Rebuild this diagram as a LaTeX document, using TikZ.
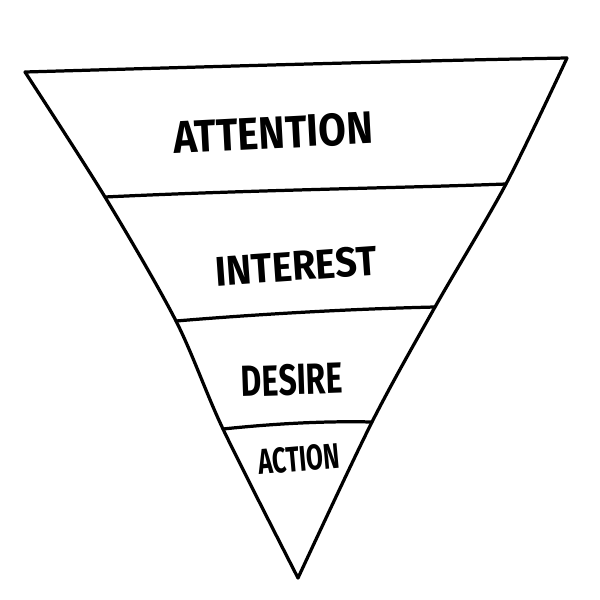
\documentclass[tikz,border=0pt]{standalone}
\usepackage{fontspec}
\setmainfont{Fira Sans}
\begin{document}
\begin{tikzpicture}[x=0.025cm,y=-0.025cm,
  ink/.style={line width=2.3pt,line cap=round,line join=round,black},
  lbl/.style={inner sep=0pt,font=\bfseries}]
\useasboundingbox (0,0) rectangle (600,600);
% corners and junctions
\coordinate (tl) at (25,72);
\coordinate (tr) at (567,58);
\coordinate (bot) at (298,578);
\coordinate (l1) at (105,197);
\coordinate (r1) at (506,184);
\coordinate (l2) at (176,321);
\coordinate (r2) at (435,307);
\coordinate (l3) at (223,429);
\coordinate (r3) at (372,422);
% funnel outline
\draw[ink] (tl) .. controls (200,67) and (400,61) .. (tr);
\draw[ink] plot[smooth,tension=0.5] coordinates {(tl) (l1) (l2) (l3) (bot)};
\draw[ink] plot[smooth,tension=0.5] coordinates {(tr) (r1) (r2) (r3) (bot)};
% dividers
\draw[ink] (l1) .. controls (250,190) and (400,188) .. (r1);
\draw[ink] (l2) .. controls (260,314) and (350,309) .. (r2);
\draw[ink] (l3) .. controls (280,423) and (330,421) .. (r3);
% labels
\node[lbl,rotate=3] (att) at (273,133) {\resizebox{142pt}{23pt}{ATTENTION}};
\node[lbl,rotate=4] (int) at (296,266) {\resizebox{115pt}{21pt}{INTEREST}};
\node[lbl,rotate=2] (des) at (292,380) {\resizebox{72pt}{22pt}{DESIRE}};
\node[lbl,rotate=5] (act) at (299,459) {\resizebox{58pt}{18pt}{ACTION}};
\end{tikzpicture}
\end{document}
